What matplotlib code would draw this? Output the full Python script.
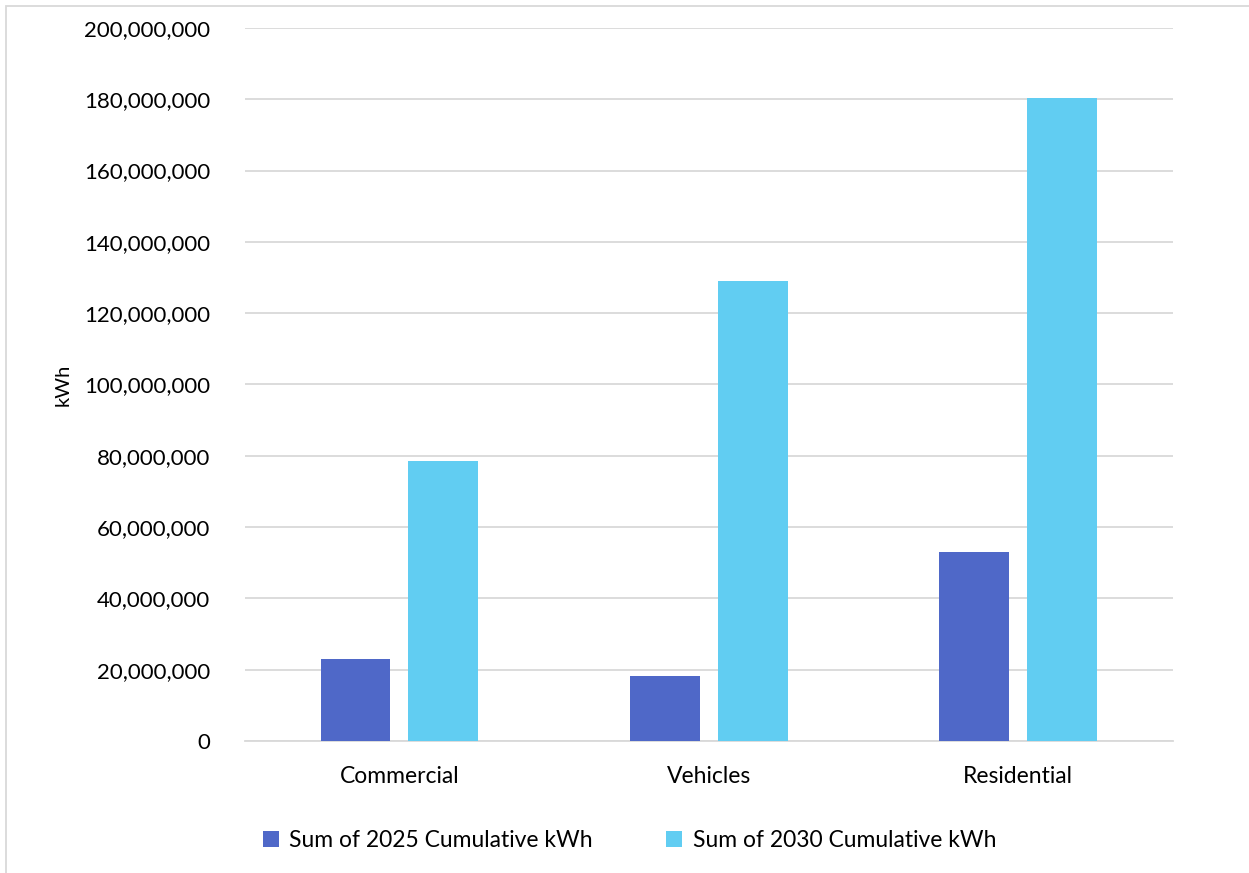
import matplotlib.pyplot as plt
import numpy as np
from matplotlib.ticker import FuncFormatter
from matplotlib.patches import Rectangle

plt.rcParams['font.family'] = ['Lato', 'DejaVu Sans']

categories = ['Commercial', 'Vehicles', 'Residential']
kwh_2025 = [22900000, 18200000, 53000000]
kwh_2030 = [78500000, 128900000, 180300000]
series_names = ['Sum of 2025 Cumulative kWh', 'Sum of 2030 Cumulative kWh']
y_ticks = [0, 20000000, 40000000, 60000000, 80000000, 100000000,
           120000000, 140000000, 160000000, 180000000, 200000000]

color_2025 = '#4F68C8'
color_2030 = '#61CDF2'

fig = plt.figure(figsize=(12.49, 8.73), dpi=100)
ax = fig.add_axes([0.196, 0.1512, 0.7428, 0.8168])

x = np.arange(len(categories))
width = 0.226
offset = 0.142

ax.bar(x - offset, kwh_2025, width, color=color_2025, label=series_names[0], zorder=3)
ax.bar(x + offset, kwh_2030, width, color=color_2030, label=series_names[1], zorder=3)

ax.set_xlim(-0.5, len(categories) - 0.5)
ax.set_ylim(0, 200000000)
ax.set_yticks(y_ticks)
ax.yaxis.set_major_formatter(FuncFormatter(lambda v, p: f'{int(v):,}'))
ax.set_xticks(x)
ax.set_xticklabels(categories)

ax.grid(axis='y', color='#d9d9d9', linewidth=1.3, zorder=0)
for side in ['top', 'right', 'left']:
    ax.spines[side].set_visible(False)
ax.spines['bottom'].set_color('#d9d9d9')
ax.spines['bottom'].set_linewidth(1.3)
ax.tick_params(axis='x', length=0, labelsize=16.5, colors='black', pad=18)
ax.tick_params(axis='y', length=0, labelsize=16, colors='black', pad=25)

ax.set_ylabel('kWh', fontsize=14.5, labelpad=9)

fig.legend(loc='center', bbox_to_anchor=(0.504, 0.037), ncol=2, frameon=False,
           fontsize=16.5, handlelength=0.7, handleheight=0.7, handletextpad=0.45,
           columnspacing=3.2)

# light outer frame
fig.patches.append(Rectangle((6 / 1249, -0.1), 1.2, 1 - 6 / 873 + 0.1,
                             transform=fig.transFigure, fill=False,
                             edgecolor='#d9d9d9', linewidth=1.3))

fig.savefig('out.png', dpi=100)
